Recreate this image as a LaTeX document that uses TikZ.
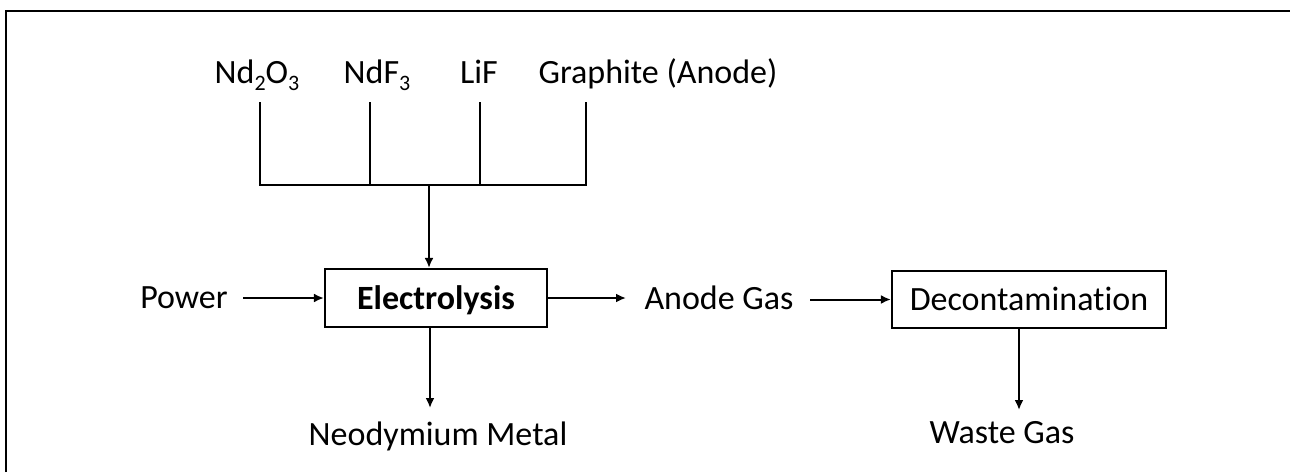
\documentclass[tikz,border=0pt]{standalone}
\usepackage{fontspec}
\setmainfont{Carlito}[Ligatures=NoCommon]
\usetikzlibrary{arrows.meta,calc}
\newcommand\subnum[1]{\raisebox{-0.45ex}{\fontsize{22}{22}\selectfont #1}}
\begin{document}
\begin{tikzpicture}[x=1pt,y=-1pt,
  lbl/.style={inner sep=0pt, anchor=base, font=\fontsize{34}{40}\selectfont},
  procbox/.style={draw, line width=2.2pt, inner sep=0pt, font=\fontsize{34}{40}\selectfont, text height=22pt, text depth=0pt},
  wire/.style={line width=2pt},
  arr/.style={line width=2pt, -{Latex[length=10pt,width=9pt]}}]
\useasboundingbox (0,0) rectangle (1290,472);
\draw[line width=2.2pt] (6,472) -- (6,11) -- (1290,11);

% inputs
\node[lbl] (nd2o3) at (257,83) {Nd\subnum{2}O\subnum{3}};
\node[lbl] (ndf3) at (377,83) {NdF\subnum{3}};
\node[lbl] (lif) at (479,83) {LiF};
\node[lbl] (graph) at (658,83) {Graphite (Anode)};

% main row
\node[lbl] (power) at (184,308) {Power};
\node[procbox, minimum width=222pt, minimum height=58pt, font=\fontsize{34}{40}\selectfont\bfseries] (elec) at (436,298) {Electrolysis};
\node[lbl] (anode) at (719,309) {Anode Gas};
\node[procbox, minimum width=274pt, minimum height=57pt] (dec) at (1029,299.5) {Decontamination};

% outputs
\node[lbl] (ndm) at (438,445) {Neodymium Metal};
\node[lbl] (waste) at (1002,443) {Waste Gas};

% collector
\coordinate (t1) at (260,102);
\coordinate (t2) at (370,102);
\coordinate (t3) at (480,102);
\coordinate (t4) at (586,102);
\coordinate (b1) at (260,185);
\coordinate (b2) at (370,185);
\coordinate (b3) at (480,185);
\coordinate (b4) at (586,185);
\coordinate (bm) at (429,185);
\draw[wire] (t1) -- (b1) -- (b4) -- (t4);
\draw[wire] (t2) -- (b2);
\draw[wire] (t3) -- (b3);
\draw[arr] (bm) -- (bm |- elec.north);

% flows
\coordinate (pw) at (243,298);
\draw[arr] (pw) -- (elec.west);
\coordinate (agin) at (626,298);
\draw[arr] (elec.east) -- (agin);
\coordinate (agout) at (810,299.5);
\draw[arr] (agout) -- (dec.west);
\coordinate (nmtip) at (430,408);
\draw[arr] (nmtip |- elec.south) -- (nmtip);
\coordinate (wgtip) at (1019,410);
\draw[arr] (wgtip |- dec.south) -- (wgtip);
\end{tikzpicture}
\end{document}
